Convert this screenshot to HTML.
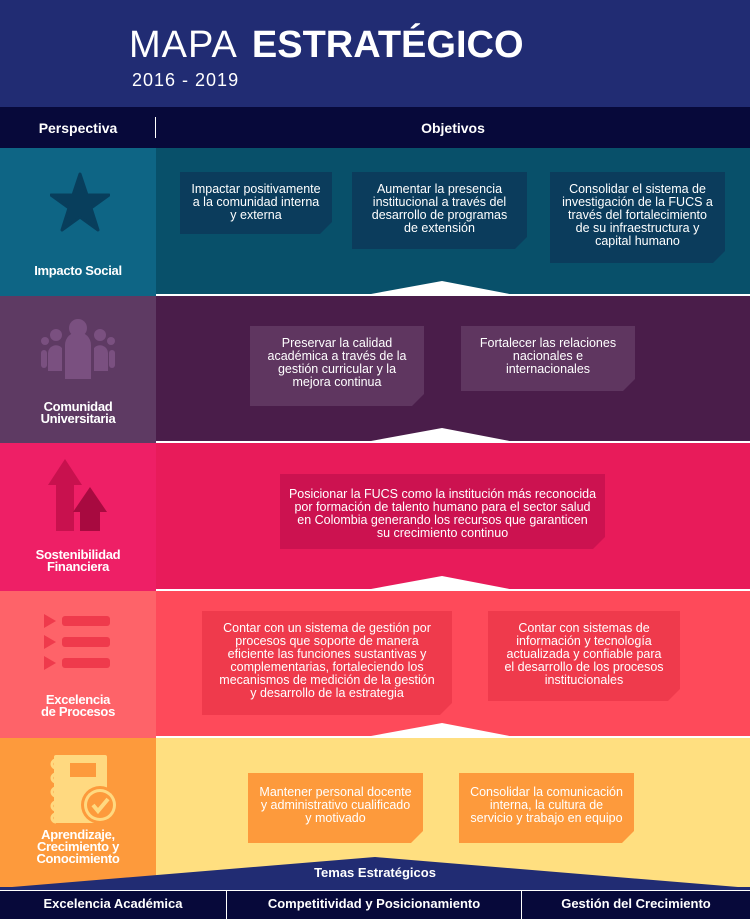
<!DOCTYPE html>
<html><head><meta charset="utf-8">
<style>
*{margin:0;padding:0;box-sizing:border-box}
body{width:750px;height:919px;position:relative;overflow:hidden;font-family:"Liberation Sans",sans-serif;background:#212c73}
.abs{position:absolute}
.row{position:absolute;left:0;width:750px}
.left{position:absolute;left:0;top:0;width:156px;height:100%}
.right{position:absolute;left:156px;top:0;width:594px;height:100%}
.box{position:absolute;color:#fff;font-family:"Liberation Sans Narrow","Liberation Sans",sans-serif;font-size:12.5px;line-height:13px;text-align:center;display:flex;align-items:flex-start;justify-content:center;padding-top:11px;clip-path:polygon(0 0,100% 0,100% calc(100% - 12px),calc(100% - 12px) 100%,0 100%)}
.lbl{position:absolute;left:0;width:156px;text-align:center;color:#fff;font-weight:bold;font-size:13px;line-height:12px;letter-spacing:-0.3px}
.sep{position:absolute;left:156px;width:594px;height:2px;background:#fff}
.tri{position:absolute}
</style></head><body>
<div class="abs" style="left:0;top:0;width:750px;height:107px;background:#212c73"></div>
<div class="abs" style="left:129px;top:26px;color:#fff;font-size:38px;line-height:38px;white-space:nowrap"><span style="font-weight:normal;letter-spacing:1px">MAPA</span><span style="display:inline-block;width:14px"></span><span style="font-weight:bold;letter-spacing:0px">ESTRATÉGICO</span></div>
<div class="abs" style="left:132px;top:71px;color:#fff;font-size:18px;line-height:18px;letter-spacing:1px">2016 - 2019</div>

<div class="abs" style="left:0;top:107px;width:750px;height:41px;background:#07093a"></div>
<div class="abs" style="left:0;top:120px;width:156px;text-align:center;color:#fff;font-weight:bold;font-size:14px">Perspectiva</div>
<div class="abs" style="left:155px;top:117px;width:1px;height:21px;background:#fff"></div>
<div class="abs" style="left:156px;top:120px;width:594px;text-align:center;color:#fff;font-weight:bold;font-size:14px">Objetivos</div>

<!-- Row 1 -->
<div class="row" style="top:148px;height:148px">
 <div class="left" style="background:#0e6585"></div><div class="right" style="background:#08506a"></div>
</div>
<svg class="abs" style="left:50px;top:172px" width="60" height="62" viewBox="0 0 60 62"><polygon points="30,2 37,23 59,23 41,36 48,58 30,45 12,58 19,36 1,23 23,23" fill="#083e5c" stroke="#083e5c" stroke-width="3" stroke-linejoin="round"/></svg>
<div class="lbl" style="top:265px">Impacto Social</div>
<div class="box" style="left:180px;top:172px;width:152px;height:62px;background:#0b3c5c">Impactar positivamente<br>a la comunidad interna<br>y externa</div>
<div class="box" style="left:352px;top:172px;width:175px;height:77px;background:#0b3c5c">Aumentar la presencia<br>institucional a través del<br>desarrollo de programas<br>de extensión</div>
<div class="box" style="left:550px;top:172px;width:175px;height:91px;background:#0b3c5c">Consolidar el sistema de<br>investigación de la FUCS a<br>través del fortalecimiento<br>de su infraestructura y<br>capital humano</div>

<!-- Row 2 -->
<div class="row" style="top:296px;height:147px">
 <div class="left" style="background:#5e3a63"></div><div class="right" style="background:#4a1d4a"></div>
</div>
<svg class="abs" style="left:40px;top:317px" width="76" height="62" viewBox="0 0 76 62">
 <g fill="#7a5080"><circle cx="38" cy="11" r="9"/><path d="M25 28a13 13 0 0 1 26 0v34h-26z"/>
 <circle cx="16" cy="18" r="6"/><circle cx="60" cy="18" r="6"/><path d="M8 36a8 8 0 0 1 14-5v23h-14z"/><path d="M54 31a8 8 0 0 1 14 5v18h-14z"/>
 <circle cx="5" cy="24" r="4"/><circle cx="71" cy="24" r="4"/><rect x="1" y="33" width="6" height="18" rx="3"/><rect x="69" y="33" width="6" height="18" rx="3"/></g></svg>
<div class="lbl" style="top:401px">Comunidad<br>Universitaria</div>
<div class="box" style="left:250px;top:326px;width:174px;height:80px;background:#5f3660">Preservar la calidad<br>académica a través de la<br>gestión curricular y la<br>mejora continua</div>
<div class="box" style="left:461px;top:326px;width:174px;height:65px;background:#5f3660">Fortalecer las relaciones<br>nacionales e<br>internacionales</div>

<!-- Row 3 -->
<div class="row" style="top:443px;height:148px">
 <div class="left" style="background:#ee1f66"></div><div class="right" style="background:#e81b5a"></div>
</div>
<svg class="abs" style="left:46px;top:459px" width="64" height="74" viewBox="0 0 64 74">
 <polygon points="19,0 36,26 28,26 28,72 10,72 10,26 2,26" fill="#c8114e"/>
 <polygon points="44,28 61,53 54,53 54,72 34,72 34,53 27,53" fill="#a80a40"/></svg>
<div class="lbl" style="top:549px">Sostenibilidad<br>Financiera</div>
<div class="box" style="left:280px;top:474px;width:325px;height:75px;background:#cc1250;padding-top:14px">Posicionar la FUCS como la institución más reconocida<br>por formación de talento humano para el sector salud<br>en Colombia generando los recursos que garanticen<br>su crecimiento continuo</div>

<!-- Row 4 -->
<div class="row" style="top:591px;height:147px">
 <div class="left" style="background:#fe6369"></div><div class="right" style="background:#fe4a5a"></div>
</div>
<svg class="abs" style="left:42px;top:614px" width="72" height="58" viewBox="0 0 72 58">
 <g fill="#ef3a4c"><polygon points="2,0 14,7 2,14"/><rect x="20" y="2" width="48" height="10" rx="3"/>
 <polygon points="2,21 14,28 2,35"/><rect x="20" y="23" width="48" height="10" rx="3"/>
 <polygon points="2,42 14,49 2,56"/><rect x="20" y="44" width="48" height="10" rx="3"/></g></svg>
<div class="lbl" style="top:694px">Excelencia<br>de Procesos</div>
<div class="box" style="left:202px;top:611px;width:250px;height:104px;background:#ef3a4c">Contar con un sistema de gestión por<br>procesos que soporte de manera<br>eficiente las funciones sustantivas y<br>complementarias, fortaleciendo los<br>mecanismos de medición de la gestión<br>y desarrollo de la estrategia</div>
<div class="box" style="left:488px;top:611px;width:192px;height:90px;background:#ef3a4c">Contar con sistemas de<br>información y tecnología<br>actualizada y confiable para<br>el desarrollo de los procesos<br>institucionales</div>

<!-- Row 5 -->
<div class="row" style="top:738px;height:152px">
 <div class="left" style="background:#fd9a3c"></div><div class="right" style="background:#ffdf80"></div>
</div>
<svg class="abs" style="left:48px;top:754px" width="72" height="74" viewBox="0 0 72 74">
 <rect x="6" y="1" width="53" height="68" rx="2" fill="#ffd980"/>
 <g fill="none" stroke="#ffd980" stroke-width="3"><path d="M8 6a4 4 0 1 0 0 8"/><path d="M8 20a4 4 0 1 0 0 8"/><path d="M8 34a4 4 0 1 0 0 8"/><path d="M8 48a4 4 0 1 0 0 8"/><path d="M8 60a4 4 0 1 0 0 8"/></g>
 <rect x="22" y="9" width="26" height="14" fill="#fd9a3c"/>
 <circle cx="52" cy="51" r="19" fill="#fd9a3c"/><circle cx="52" cy="51" r="16" fill="#ffd980"/><circle cx="52" cy="51" r="13" fill="#fd9a3c"/>
 <polyline points="45,51 50,57 60,45" fill="none" stroke="#ffd980" stroke-width="4"/></svg>
<div class="lbl" style="top:829px">Aprendizaje,<br>Crecimiento y<br>Conocimiento</div>
<div class="box" style="left:248px;top:773px;width:175px;height:70px;background:#fd9a3c;padding-top:13px">Mantener personal docente<br>y administrativo cualificado<br>y motivado</div>
<div class="box" style="left:459px;top:773px;width:175px;height:70px;background:#fd9a3c;padding-top:13px">Consolidar la comunicación<br>interna, la cultura de<br>servicio y trabajo en equipo</div>

<!-- separators & peaks -->
<div class="sep" style="top:294px"></div>
<svg class="tri" style="left:360px;top:281px" width="160" height="15"><polygon points="0,15 82,0 160,15" fill="#fff"/></svg>
<div class="sep" style="top:441px"></div>
<svg class="tri" style="left:360px;top:428px" width="160" height="15"><polygon points="0,15 82,0 160,15" fill="#fff"/></svg>
<div class="sep" style="top:589px"></div>
<svg class="tri" style="left:360px;top:576px" width="160" height="15"><polygon points="0,15 82,0 160,15" fill="#fff"/></svg>
<div class="sep" style="top:736px"></div>
<svg class="tri" style="left:360px;top:723px" width="160" height="15"><polygon points="0,15 82,0 160,15" fill="#fff"/></svg>

<!-- Temas -->
<svg class="abs" style="left:0;top:855px" width="750" height="36"><polygon points="0,33 375,2 750,33 750,36 0,36" fill="#212c73"/><rect x="0" y="32" width="750" height="4" fill="#212c73"/></svg>
<div class="abs" style="left:0;top:865px;width:750px;text-align:center;color:#fff;font-weight:bold;font-size:13px">Temas Estratégicos</div>
<div class="abs" style="left:0;top:890px;width:750px;height:29px;background:#07093a;border-top:1px solid #fff"></div>
<div class="abs" style="left:226px;top:891px;width:1px;height:28px;background:#fff"></div>
<div class="abs" style="left:521px;top:891px;width:1px;height:28px;background:#fff"></div>
<div class="abs" style="left:0;top:896px;width:226px;text-align:center;color:#fff;font-weight:bold;font-size:13px">Excelencia Académica</div>
<div class="abs" style="left:227px;top:896px;width:294px;text-align:center;color:#fff;font-weight:bold;font-size:13px">Competitividad y Posicionamiento</div>
<div class="abs" style="left:522px;top:896px;width:228px;text-align:center;color:#fff;font-weight:bold;font-size:13px">Gestión del Crecimiento</div>
</body></html>
